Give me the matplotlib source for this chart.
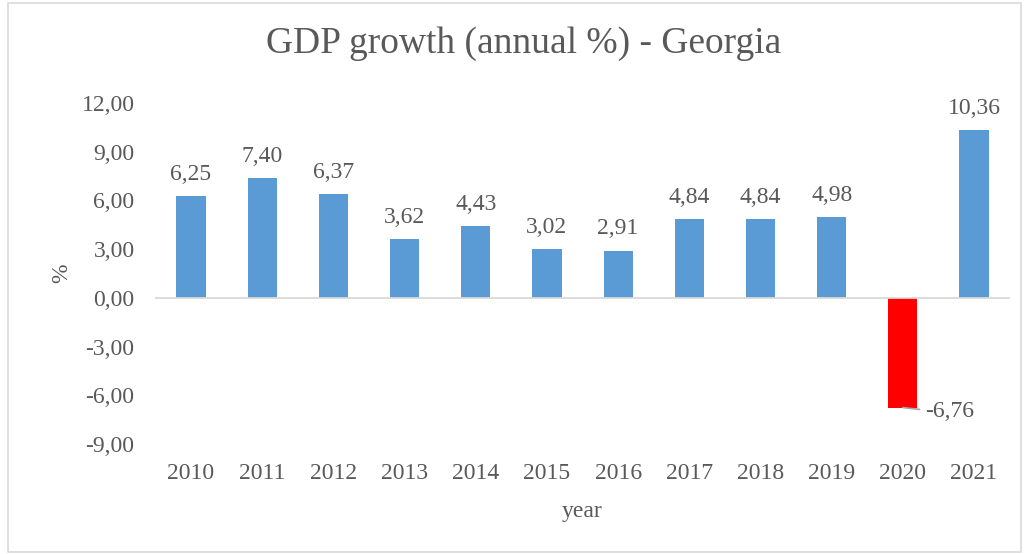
import matplotlib
matplotlib.use("Agg")
import matplotlib.pyplot as plt
from matplotlib.patches import Rectangle

years = ["2010", "2011", "2012", "2013", "2014", "2015", "2016", "2017", "2018", "2019", "2020", "2021"]
growth = [6.25, 7.40, 6.37, 3.62, 4.43, 3.02, 2.91, 4.84, 4.84, 4.98, -6.76, 10.36]
yticks = [-9, -6, -3, 0, 3, 6, 9, 12]

plt.rcParams['font.family'] = ['Liberation Serif', 'DejaVu Serif']
txt = '#595959'

fig = plt.figure(figsize=(10.25, 5.54), dpi=100)
ax = fig.add_axes([0.1516, 0.1986, 0.8334, 0.6155])

colors = ['#FF0000' if v < 0 else '#5B9BD5' for v in growth]
x = list(range(len(years)))
ax.bar(x, growth, width=0.41, color=colors, zorder=2)
ax.set_xlim(-0.5, len(years) - 0.5)
ax.set_ylim(-9, 12)
ax.set_yticks(yticks)
ax.set_yticklabels([f"{v:.2f}".replace('.', ',') for v in yticks], fontsize=17, color=txt)
ax.set_xticks(x)
ax.set_xticklabels(years, fontsize=17, color=txt)
ax.tick_params(length=0)
ax.tick_params(axis='x', pad=14)
ax.tick_params(axis='y', pad=15)
for s in ax.spines.values():
    s.set_visible(False)
ax.axhline(0, color='#D9D9D9', lw=1.3, zorder=3)

for xi, v in zip(x, growth):
    lab = f"{v:.2f}".replace('.', ',')
    if v >= 0:
        ax.annotate(lab, (xi, v), xytext=(0, 8), textcoords='offset points',
                    ha='center', va='bottom', fontsize=17, color=txt)
    else:
        ax.annotate(lab, (xi, v), xytext=(16, -3), textcoords='offset points',
                    ha='left', va='center', fontsize=17, color=txt,
                    arrowprops=dict(arrowstyle='-', color='#A6A6A6', lw=1.2,
                                    shrinkA=2, shrinkB=0,
                                    connectionstyle='arc,angleA=180,angleB=-90,armA=8,armB=0,rad=2'))

ax.set_ylabel('%', fontsize=17, color=txt, labelpad=7)
ax.set_xlabel('year', fontsize=17, color=txt, labelpad=12)
fig.suptitle('GDP growth (annual %) - Georgia', fontsize=27, color=txt, x=0.511, y=0.952)

fig.patches.append(Rectangle((8/1025, 2/554), 1013/1025, 549/554, transform=fig.transFigure,
                             fill=False, edgecolor='#D9D9D9', lw=1.2))

fig.savefig('out.png', dpi=100)
